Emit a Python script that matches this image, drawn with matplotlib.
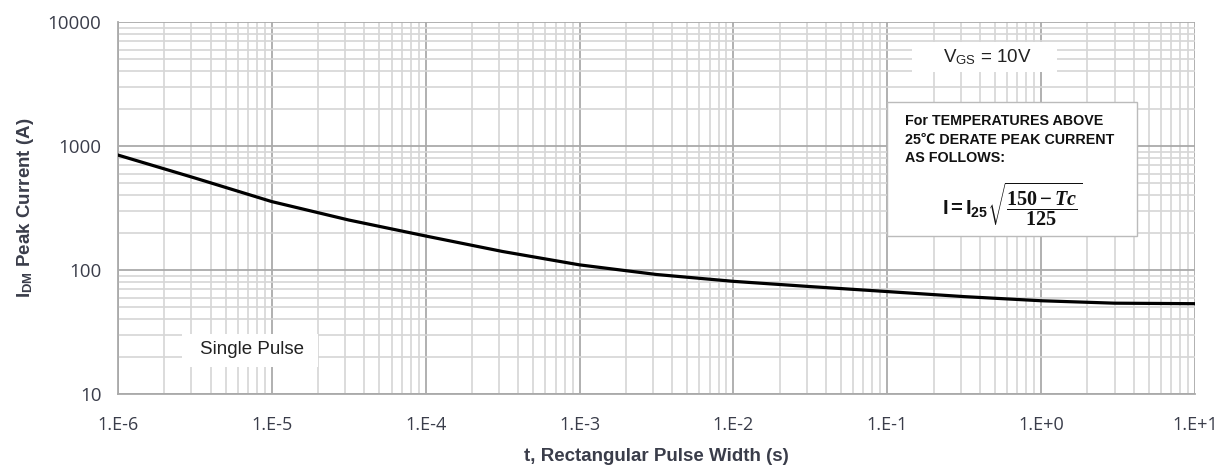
import matplotlib
matplotlib.use("Agg")
import matplotlib.pyplot as plt
from matplotlib.ticker import LogLocator, FixedLocator, FixedFormatter, NullFormatter

plt.rcParams['font.family'] = ['Liberation Sans', 'DejaVu Sans']
plt.rcParams['mathtext.fontset'] = 'custom'
plt.rcParams['mathtext.rm'] = 'Liberation Sans'
plt.rcParams['mathtext.sf'] = 'Liberation Sans:bold'
plt.rcParams['mathtext.bf'] = 'Liberation Serif:bold'
plt.rcParams['mathtext.it'] = 'Liberation Serif:italic'
plt.rcParams['mathtext.bfit'] = 'Liberation Serif:bold:italic'

# Peak current capability vs. pulse width (single pulse)
pulse_width = [1e-6, 3.16e-6, 1e-5, 3.16e-5, 1e-4, 3.16e-4, 1e-3, 3.16e-3,
               1e-2, 3.16e-2, 1e-1, 3.16e-1, 1e0, 3e0, 1e1]
peak_current = [845, 552, 356, 253, 188, 141, 110, 92,
                81, 73.5, 67, 61, 56.5, 54, 53.5]

x_ticks = [1e-6, 1e-5, 1e-4, 1e-3, 1e-2, 1e-1, 1e0, 1e1]
x_tick_labels = ['1.E-6', '1.E-5', '1.E-4', '1.E-3', '1.E-2', '1.E-1', '1.E+0', '1.E+1']
y_ticks = [10, 100, 1000, 10000]
y_tick_labels = ['10', '100', '1000', '10000']

W, H = 1222, 467
L, R, T, B = 118, 1195, 22, 394

fig = plt.figure(figsize=(W / 100, H / 100), dpi=100)
ax = fig.add_axes([L / W, 1 - B / H, (R - L) / W, (B - T) / H])


def ax_xy(px, py):
    """Pixel position in the figure -> axes fraction."""
    return (px - L) / (R - L), (B - py) / (B - T)


ax.plot(pulse_width, peak_current, color='black', lw=2.3, zorder=3,
        solid_joinstyle='round')

ax.set_xscale('log')
ax.set_yscale('log')
ax.set_xlim(1e-6, 1e1)
ax.set_ylim(10, 10000)

ax.xaxis.set_major_locator(FixedLocator(x_ticks))
ax.xaxis.set_major_formatter(FixedFormatter(x_tick_labels))
ax.yaxis.set_major_locator(FixedLocator(y_ticks))
ax.yaxis.set_major_formatter(FixedFormatter(y_tick_labels))
ax.xaxis.set_minor_locator(LogLocator(base=10, subs=range(2, 10), numticks=20))
ax.yaxis.set_minor_locator(LogLocator(base=10, subs=range(2, 10), numticks=20))
ax.xaxis.set_minor_formatter(NullFormatter())
ax.yaxis.set_minor_formatter(NullFormatter())

ax.grid(which='major', color='#aaaaaa', lw=1.3, zorder=0)
ax.grid(which='minor', color='#d6d6d6', lw=1.2, zorder=0)
ax.tick_params(which='both', length=0, colors='#3a3d4a')
ax.tick_params(axis='x', labelsize=13, pad=16)
ax.tick_params(axis='y', labelsize=13.5, pad=12)
for lbl in ax.get_xticklabels() + ax.get_yticklabels():
    lbl.set_family(['Open Sans', 'DejaVu Sans'])
for side in ['top', 'right']:
    ax.spines[side].set_visible(False)
for side in ['left', 'bottom']:
    ax.spines[side].set_color('#aaaaaa')
    ax.spines[side].set_linewidth(1.3)

ax.set_xlabel('t, Rectangular Pulse Width (s)', fontsize=13.5, fontweight='bold',
              color='#3a3d4a', labelpad=10)
ax.set_ylabel(r'I$_{\mathsf{DM}}$ Peak Current (A)', fontsize=13.5, fontweight='bold',
              color='#3a3d4a', labelpad=8)

# Gate drive condition
x0, y0 = ax_xy(912, 72)
x1, y1 = ax_xy(1057, 42)
ax.add_patch(plt.Rectangle((x0, y0), x1 - x0, y1 - y0, transform=ax.transAxes,
                           facecolor='white', edgecolor='none', zorder=4))
ax.text(*ax_xy(987, 57), r'V$_{\mathrm{GS}}$ = 10V', transform=ax.transAxes,
        ha='center', va='center', fontsize=13.5, color='#222222', zorder=5)

# Single pulse note
x0, y0 = ax_xy(182, 367)
x1, y1 = ax_xy(318, 334)
ax.add_patch(plt.Rectangle((x0, y0), x1 - x0, y1 - y0, transform=ax.transAxes,
                           facecolor='white', edgecolor='none', zorder=4))
ax.text(*ax_xy(252, 350), 'Single Pulse', transform=ax.transAxes,
        ha='center', va='center', fontsize=13.5, color='#222222', zorder=5)

# Temperature derating box
x0, y0 = ax_xy(887, 236)
x1, y1 = ax_xy(1137, 102)
ax.add_patch(plt.Rectangle((x0, y0), x1 - x0, y1 - y0, transform=ax.transAxes,
                           facecolor='white', edgecolor='#bbbbbb', lw=1.0, zorder=4))
note_lines = ['For TEMPERATURES ABOVE', '25\u2103 DERATE PEAK CURRENT', 'AS FOLLOWS:']
for i, line in enumerate(note_lines):
    ax.text(*ax_xy(905, 121 + 18.5 * i), line, transform=ax.transAxes,
            ha='left', va='center', fontsize=10.3, fontweight='bold', color='#111111',
            zorder=6, family=['Liberation Sans', 'Noto Sans CJK SC', 'DejaVu Sans'])
ax.text(*ax_xy(1012, 204),
        r'$\mathsf{I = I}_{\mathsf{25}}\sqrt{\dfrac{\mathbf{150}-\mathbfit{Tc}}{\mathbf{125}}}$',
        transform=ax.transAxes, ha='center', va='center', fontsize=14.5,
        color='#111111', zorder=6)

fig.savefig('out.png', dpi=100, facecolor='white')
